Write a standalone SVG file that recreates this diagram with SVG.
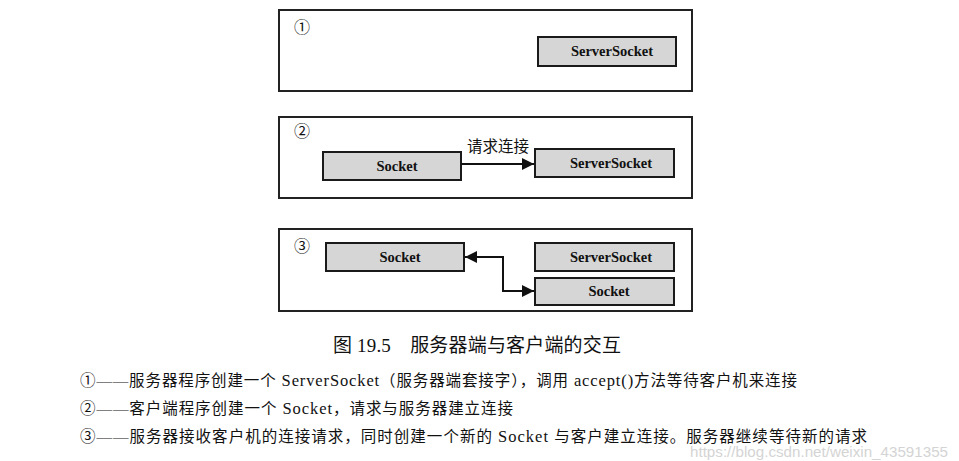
<svg xmlns="http://www.w3.org/2000/svg" width="959" height="461" viewBox="0 0 959 461">
<defs>
<style>
.frame{fill:#fff;stroke:#222;stroke-width:2}
.node rect{fill:#d6d6d6;stroke:#1a1a1a;stroke-width:2}
.lbl{font-family:"Liberation Serif","Times New Roman",serif;font-size:14.5px;font-weight:bold;fill:#111;text-anchor:middle}
.num{font-family:"Liberation Serif","Noto Sans CJK SC",serif;font-size:16px;fill:#111}
.cap{font-family:"Liberation Serif","Noto Sans CJK SC",serif;font-size:19px;fill:#111}
.txt{font-family:"Liberation Serif","Noto Sans CJK SC",serif;font-size:15.5px;fill:#111}
.lat{font-size:16.5px}
.wm{font-family:"Liberation Sans",Arial,sans-serif;font-size:14px;fill:#d4d4d4}
.conn{fill:none;stroke:#111;stroke-width:2}
</style>
<marker id="ah" viewBox="0 0 10 10" refX="10" refY="5" markerWidth="6" markerHeight="6" orient="auto-start-reverse" markerUnits="strokeWidth">
<path d="M0,0 L10,5 L0,10 z" fill="#111"/>
</marker>
</defs>

<g id="panel1">
<rect class="frame" x="279" y="10" width="413" height="81"/>
<text class="num" x="294" y="33">①</text>
</g>
<g id="p1-serversocket" class="node">
<rect x="538" y="37" width="138" height="29"/>
<text class="lbl" x="612" y="56">ServerSocket</text>
</g>

<g id="panel2">
<rect class="frame" x="279" y="117" width="413" height="81"/>
<text class="num" x="294" y="137">②</text>
</g>
<g id="p2-socket" class="node">
<rect x="323" y="152" width="138" height="28"/>
<text class="lbl" x="397" y="171">Socket</text>
</g>
<g id="p2-serversocket" class="node">
<rect x="535" y="149" width="139" height="28"/>
<text class="lbl" x="611" y="168">ServerSocket</text>
</g>

<g id="panel3">
<rect class="frame" x="279" y="229" width="413" height="82"/>
<text class="num" x="294" y="252">③</text>
</g>
<g id="p3-socket-client" class="node">
<rect x="326" y="243" width="138" height="28"/>
<text class="lbl" x="400" y="262">Socket</text>
</g>
<g id="p3-serversocket" class="node">
<rect x="535" y="243" width="139" height="28"/>
<text class="lbl" x="611" y="262">ServerSocket</text>
</g>
<g id="p3-socket-server" class="node">
<rect x="535" y="278" width="139" height="27"/>
<text class="lbl" x="609" y="296">Socket</text>
</g>

<g id="connectors">
<path class="conn" d="M461,164 L534,164" marker-end="url(#ah)"/>
<text class="txt" x="498" y="152" text-anchor="middle">请求连接</text>
<path class="conn" d="M465,257 L503,257 L503,291 L534,291" marker-start="url(#ah)" marker-end="url(#ah)"/>
</g>

<g id="caption">
<text class="cap" x="333" y="352" textLength="288" lengthAdjust="spacing">图 19.5　服务器端与客户端的交互</text>
<text class="txt" x="80" y="386" textLength="717" lengthAdjust="spacing">①——服务器程序创建一个<tspan class="lat"> ServerSocket</tspan>（服务器端套接字），调用<tspan class="lat"> accept()</tspan>方法等待客户机来连接</text>
<text class="txt" x="80" y="414" textLength="433" lengthAdjust="spacing">②——客户端程序创建一个<tspan class="lat"> Socket</tspan>，请求与服务器建立连接</text>
<text class="txt" x="80" y="442" textLength="787" lengthAdjust="spacing">③——服务器接收客户机的连接请求，同时创建一个新的<tspan class="lat"> Socket </tspan>与客户建立连接。服务器继续等待新的请求</text>
<text class="wm" x="690" y="457" textLength="258" lengthAdjust="spacingAndGlyphs">https://blog.csdn.net/weixin_43591355</text>
</g>
</svg>
